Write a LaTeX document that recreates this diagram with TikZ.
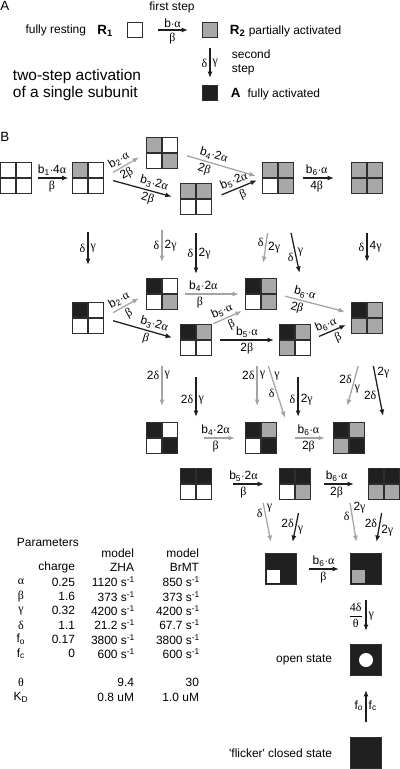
\documentclass[tikz,border=0pt]{standalone}
\usepackage{amsmath}
\usepackage{fontspec}
\setmainfont{Liberation Sans}
\newfontfamily\greekfont{Liberation Serif}
\usetikzlibrary{arrows, arrows.meta}
\usetikzlibrary{calc}

\definecolor{subgray}{HTML}{A8A8A8}
\definecolor{subblack}{HTML}{202020}
\definecolor{frame}{HTML}{2E2E2E}
\definecolor{arrblack}{HTML}{1E1E1E}
\definecolor{arrgray}{HTML}{A4A4A4}

\newdimen\pxu
\pxu=0.025cm

\tikzset{
  unitbox/.style={inner sep=0pt, outer sep=0pt, minimum size=31*\pxu},
  boxline/.style={draw=frame, line width=1.1pt},
  single/.style={draw=frame, line width=1.1pt, inner sep=0pt, outer sep=0pt, minimum size=15*\pxu},
  closed/.style={fill=subblack, draw=frame, line width=1.1pt, inner sep=0pt, outer sep=0pt, minimum size=31*\pxu},
  rate/.style={-{Latex[length=4.6pt, width=3.6pt]}, line width=0.9pt, draw=arrblack},
  grate/.style={rate, draw=arrgray},
  lbl/.style={font=\fontsize{8.5}{9.5}\selectfont, inner sep=1.5pt},
}

\newcommand{\galpha}{{\greekfont α}}
\newcommand{\gbeta}{{\greekfont β}}
\newcommand{\ggamma}{{\greekfont γ}}
\newcommand{\gdelta}{{\greekfont δ}}
\newcommand{\gtheta}{{\greekfont θ}}
\newcommand{\brate}[2]{b\textsubscript{#1}$\cdot$#2\galpha}
% name, position, upper left, upper right, lower left, lower right
\newcommand{\subunits}[6]{
  \node[unitbox] (#1) at (#2) {};
  \fill[#3] (#1.north west) rectangle (#1.center);
  \fill[#4] (#1.north) rectangle (#1.east);
  \fill[#5] (#1.west) rectangle (#1.south);
  \fill[#6] (#1.center) rectangle (#1.south east);
  \draw[boxline] (#1.north west) rectangle (#1.south east);
  \draw[boxline] (#1.north) -- (#1.south) (#1.west) -- (#1.east);
}

\begin{document}
\begin{tikzpicture}[x=0.025cm, y=-0.025cm, font=\fontsize{8.5}{10}\selectfont]
\useasboundingbox (0,0) rectangle (400,769);

% panel A
\node[anchor=west, inner sep=0pt, font=\fontsize{9.5}{11}\selectfont] (tA) at (0,6) {A};
\node[single, fill=white] (r1) at (135,30) {};
\node[single, fill=subgray] (r2) at (210,30) {};
\node[single, fill=subblack] (act) at (210,93) {};
\node[anchor=east] (rest) at (91,30) {fully resting};
\node[anchor=east, font=\fontsize{9.5}{11}\selectfont\bfseries] (r1lbl) at (118,31) {R\textsubscript{1}};
\node (step1) at (172,7) {first step};
\node[anchor=west] (r2lbl) at (225,31) {{\fontsize{9.5}{11}\selectfont\bfseries R\textsubscript{2}} partially activated};
\node[anchor=west, align=left] (step2) at (227,62) {second\\step};
\node[anchor=west] (actlbl) at (226,94) {{\fontsize{9.5}{11}\selectfont\bfseries A}\hspace{5pt}fully activated};
\node[anchor=west, align=left, font=\fontsize{11}{12}\selectfont] (title) at (8,85) {two-step activation\\of a single subunit};

\draw[rate, shorten <=15.5*\pxu, shorten >=14.5*\pxu] (r1.east) -- node[lbl, above]{b$\cdot$\galpha} node[lbl, below]{\gbeta} (r2.west);
\draw[rate, shorten <=10.5*\pxu, shorten >=7.5*\pxu] (r2.south) -- node[lbl, left, pos=.53]{\gdelta} node[lbl, right, pos=.53]{\ggamma} (act.north);

% panel B
\node[anchor=west, inner sep=0pt, font=\fontsize{9.5}{11}\selectfont] (tB) at (0,137) {B};

\subunits{g1}{16,178}{white}{white}{white}{white}
\subunits{g2}{88,178}{subgray}{white}{white}{white}
\subunits{g3}{162,153}{subgray}{white}{white}{subgray}
\subunits{g4}{196,199}{subgray}{subgray}{white}{white}
\subunits{g5}{278,178}{subgray}{subgray}{white}{subgray}
\subunits{g6}{367,178}{subgray}{subgray}{subgray}{subgray}

\subunits{r2a}{88,318}{subblack}{white}{white}{white}
\subunits{r2b}{162,294}{subblack}{white}{white}{subgray}
\subunits{r2c}{196,340}{subblack}{subgray}{white}{white}
\subunits{r2d}{261,294}{subblack}{subgray}{white}{subgray}
\subunits{r2e}{295,340}{subblack}{subgray}{subgray}{white}
\subunits{r2f}{367,318}{subblack}{subgray}{subgray}{subgray}

\subunits{r3a}{162,438}{subblack}{white}{white}{subblack}
\subunits{r3c}{261,438}{subblack}{subgray}{white}{subblack}
\subunits{r3e}{349,438}{subblack}{subgray}{subgray}{subblack}
\subunits{r3b}{196,484}{subblack}{subblack}{white}{white}
\subunits{r3d}{295,484}{subblack}{subblack}{white}{subgray}
\subunits{r3f}{384,484}{subblack}{subblack}{subgray}{subgray}

\node[closed] (r4a) at (281,569) {};
\node[closed] (r4b) at (366,569) {};
\fill[white] ($(r4a.south west)+(1.5,-1.5)$) rectangle +(13,-13);
\fill[subgray] ($(r4b.south west)+(1.5,-1.5)$) rectangle +(13,-13);
\node[closed] (open) at (366,660) {};
\fill[white] (open) circle[radius=7*\pxu];
\node[closed] (flick) at (366,753) {};
\node[anchor=east] (openlbl) at (337,660) {open state};
\node[anchor=east] (flicklbl) at (337,753) {\textquotesingle flicker\textquotesingle\ closed state};

% first row
\draw[rate, shorten <=6*\pxu, shorten >=4*\pxu] (g1.east) -- node[lbl, above]{\brate{1}{4}} node[lbl, below]{\gbeta} (g2.west);
\draw[grate, shorten <=11*\pxu, shorten >=8.5*\pxu] (g2.east) -- node[lbl, above, sloped, pos=.45]{\brate{2}{}} node[lbl, below, sloped, pos=.45]{2\gbeta} (g3.west);
\draw[rate, shorten <=10*\pxu, shorten >=9*\pxu] (g2.east) -- node[lbl, above, sloped, pos=.63]{\brate{3}{2}} node[lbl, below, sloped, pos=.6]{2\gbeta} (g4.west);
\draw[grate, shorten <=10*\pxu, shorten >=7*\pxu] (g3.east) -- node[lbl, above, sloped, pos=.4]{\brate{4}{2}} node[lbl, below, sloped, pos=.34]{2\gbeta} (g5.west);
\draw[rate, shorten <=11*\pxu, shorten >=6*\pxu] (g4.east) -- node[lbl, above, sloped, pos=.5]{\brate{5}{2}} node[lbl, below, sloped, pos=.56]{\gbeta} (g5.west);
\draw[rate, shorten <=9.5*\pxu, shorten >=17.5*\pxu] (g5.east) -- node[lbl, above, pos=.4]{\brate{6}{}} node[lbl, below, pos=.4]{4\gbeta} (g6.west);

\draw[rate, shorten <=38.5*\pxu, shorten >=37.5*\pxu] (g2.south) -- node[lbl, left]{\gdelta} node[lbl, right]{\ggamma} (r2a.north);
\draw[grate, shorten <=61.5*\pxu, shorten >=16.5*\pxu] (g3.south) -- node[lbl, left, pos=.7]{\gdelta} node[lbl, right, pos=.7]{2\ggamma} (r2b.north);
\draw[rate, shorten <=18.5*\pxu, shorten >=50.5*\pxu] (g4.south) -- node[lbl, left, pos=.355]{\gdelta} node[lbl, right, pos=.355]{2\ggamma} (r2c.north);
\draw[grate, shorten <=39.9*\pxu, shorten >=15.7*\pxu] ($(g5.south)!.3!(g5.south west)$) -- node[lbl, left, pos=.58]{\gdelta} node[lbl, right, pos=.64]{2\ggamma} (r2d.north);
\draw[rate, shorten <=40.4*\pxu, shorten >=52.7*\pxu] ($(g5.south)!.3!(g5.south east)$) -- node[lbl, left, pos=.49]{\gdelta} node[lbl, right, pos=.45]{\ggamma} (r2e.north east);
\draw[rate, shorten <=39.5*\pxu, shorten >=40.5*\pxu] (g6.south) -- node[lbl, left, pos=.49]{\gdelta} node[lbl, right, pos=.49]{4\ggamma} (r2f.north);

% second row
\draw[grate, shorten <=10.9*\pxu, shorten >=8.6*\pxu] (r2a.east) -- node[lbl, above, sloped, pos=.45]{\brate{2}{}} node[lbl, below, sloped, pos=.5]{\gbeta} (r2b.west);
\draw[rate, shorten <=9.9*\pxu, shorten >=8.8*\pxu] (r2a.east) -- node[lbl, above, sloped, pos=.63]{\brate{3}{2}} node[lbl, below, sloped, pos=.58]{\gbeta} (r2c.west);
\draw[grate, shorten <=7.5*\pxu, shorten >=6.5*\pxu] (r2b.east) -- node[lbl, above, pos=.38]{\brate{4}{2}} node[lbl, below, pos=.33]{\gbeta} (r2d.west);
\draw[grate, shorten <=2*\pxu, shorten >=4*\pxu] (r2c.north east) -- node[lbl, above, sloped, pos=.4]{\brate{5}{}} node[lbl, below, sloped, pos=.5]{\gbeta} (r2d.south west);
\draw[rate, shorten <=8.5*\pxu, shorten >=5.5*\pxu] (r2c.east) -- node[lbl, above, pos=.52]{\brate{5}{}} node[lbl, below, pos=.52]{2\gbeta} (r2e.west);
\draw[grate, shorten <=8.8*\pxu, shorten >=6.7*\pxu] (r2d.east) -- node[lbl, above, sloped, pos=.35]{\brate{6}{}} node[lbl, below, sloped, pos=.3]{2\gbeta} ($(r2f.west)!.3!(r2f.north west)$);
\draw[rate, shorten <=9.2*\pxu, shorten >=6*\pxu] (r2e.east) -- node[lbl, above, sloped, pos=.45]{\brate{6}{}} node[lbl, below, sloped, pos=.6]{\gbeta} ($(r2f.west)!.3!(r2f.south west)$);

\draw[grate, shorten <=56.5*\pxu, shorten >=16.5*\pxu] (r2b.south) -- node[lbl, left, pos=.58]{2\gdelta} node[lbl, right, pos=.58]{\ggamma} (r3a.north);
\draw[rate, shorten <=21.5*\pxu, shorten >=51.5*\pxu] (r2c.south) -- node[lbl, left, pos=.39]{2\gdelta} node[lbl, right, pos=.39]{\ggamma} (r3b.north);
\draw[grate, shorten <=56.5*\pxu, shorten >=16.5*\pxu] ($(r2d.south)!.25!(r2d.south west)$) -- node[lbl, left, pos=.58]{2\gdelta} node[lbl, right, pos=.58]{\ggamma} ($(r3c.north)!.25!(r3c.north west)$);
\draw[grate, shorten <=59.3*\pxu, shorten >=53*\pxu] ($(r2d.south)!.7!(r2d.south west)$) -- node[lbl, left, pos=.53]{\gdelta} node[lbl, right, pos=.42]{\ggamma} ($(r3d.north)!.4!(r3d.north east)$);
\draw[rate, shorten <=21.5*\pxu, shorten >=51.5*\pxu] ($(r2e.south)!.2!(r2e.south east)$) -- node[lbl, left, pos=.39]{\gdelta} node[lbl, right, pos=.39]{2\ggamma} ($(r3d.north)!.2!(r3d.north east)$);
\draw[grate, shorten <=33.7*\pxu, shorten >=17.1*\pxu] (r2f.south) -- node[lbl, left, pos=.52]{2\gdelta} node[lbl, right, pos=.62]{\ggamma} ($(r3e.north)!.4!(r3e.north west)$);
\draw[rate, shorten <=33.1*\pxu, shorten >=53.5*\pxu] (r2f.south) -- node[lbl, left, pos=.46]{2\gdelta} node[lbl, right, pos=.29]{2\ggamma} ($(r3f.north)!.6!(r3f.north east)$);

% third row
\draw[grate, shorten <=26.5*\pxu, shorten >=10.5*\pxu] (r3a.east) -- node[lbl, above, pos=.56]{\brate{4}{2}} node[lbl, below, pos=.56]{\gbeta} (r3c.west);
\draw[grate, shorten <=18.5*\pxu, shorten >=8.5*\pxu] (r3c.east) -- node[lbl, above, pos=.56]{\brate{6}{}} node[lbl, below, pos=.56]{2\gbeta} (r3e.west);
\draw[rate, shorten <=21.5*\pxu, shorten >=15.5*\pxu] (r3b.east) -- node[lbl, above, pos=.47]{\brate{5}{2}} node[lbl, below, pos=.47]{\gbeta} (r3d.west);
\draw[rate, shorten <=13.5*\pxu, shorten >=14.5*\pxu] (r3d.east) -- node[lbl, above, pos=.45]{\brate{6}{}} node[lbl, below, pos=.45]{2\gbeta} (r3f.west);

\draw[grate, shorten <=50.5*\pxu, shorten >=11.7*\pxu] ($(r3c.south)!.5!(r3c.south west)$) -- node[lbl, left, pos=.6]{\gdelta} node[lbl, right, pos=.55]{\ggamma} ($(r4a.north)!.5!(r4a.north west)$);
\draw[rate, shorten <=13.8*\pxu, shorten >=11.7*\pxu] ($(r3d.south)!.4!(r3d.south east)$) -- node[lbl, left, pos=.44]{2\gdelta} node[lbl, right, pos=.56]{\ggamma} ($(r4a.north)!.6!(r4a.north east)$);
\draw[grate, shorten <=50.1*\pxu, shorten >=11.6*\pxu] ($(r3e.south)!.45!(r3e.south west)$) -- node[lbl, left, pos=.63]{\gdelta} node[lbl, right, pos=.54]{2\ggamma} ($(r4b.north)!.5!(r4b.north west)$);
\draw[rate, shorten <=13.7*\pxu, shorten >=11.7*\pxu] (r3f.south) -- node[lbl, left, pos=.44]{2\gdelta} node[lbl, right, pos=.57]{2\ggamma} ($(r4b.north)!.55!(r4b.north east)$);

% fully activated, opening
\draw[rate, shorten <=12.5*\pxu, shorten >=11.5*\pxu] (r4a.east) -- node[lbl, above]{\brate{6}{}} node[lbl, below]{\gbeta} (r4b.west);
\draw[rate, shorten <=15.5*\pxu, shorten >=13.5*\pxu] (r4b.south) -- node[lbl, left, pos=.52]{$\dfrac{\text{\greekfont 4δ}}{\text{\greekfont θ}}$} node[lbl, right, pos=.52]{\ggamma} (open.north);
\draw[rate, shorten <=15.5*\pxu, shorten >=14.5*\pxu] (flick.north) -- node[lbl, left, pos=.51]{f\textsubscript{o}} node[lbl, right, pos=.51]{f\textsubscript{c}} (open.south);

% parameter table
\node[anchor=west] (par) at (12,542) {Parameters};
\node[anchor=east] (mod1) at (139,553) {model};
\node[anchor=east] (mod2) at (204,553) {model};
\node[anchor=east] (hchg) at (80,567) {charge};
\node[anchor=east] (hzha) at (139,567) {ZHA};
\node[anchor=east] (hbrm) at (204,567) {BrMT};
\foreach \sym/\chg/\zha/\brm [count=\i] in {\galpha/0.25/1120/850, \gbeta/1.6/373/373, \ggamma/0.32/4200/4200, \gdelta/1.1/21.2/67.7, f\textsubscript{o}/0.17/3800/3800, f\textsubscript{c}/0/600/600} {
  \node (sym\i) at (21,567.7+14.3*\i) {\sym};
  \node[anchor=east] (chg\i) at (80,567.7+14.3*\i) {\chg};
  \node[anchor=east] (zha\i) at (140,567.7+14.3*\i) {\zha{} s\textsuperscript{-1}};
  \node[anchor=east] (brm\i) at (205,567.7+14.3*\i) {\brm{} s\textsuperscript{-1}};
}
\node (symt) at (21,682) {\gtheta};
\node[anchor=east] (zhat) at (139,682) {9.4};
\node[anchor=east] (brmt) at (204,682) {30};
\node (symk) at (21,697) {K\textsubscript{D}};
\node[anchor=east] (zhak) at (139,697) {0.8 uM};
\node[anchor=east] (brmk) at (204,697) {1.0 uM};
\end{tikzpicture}
\end{document}
